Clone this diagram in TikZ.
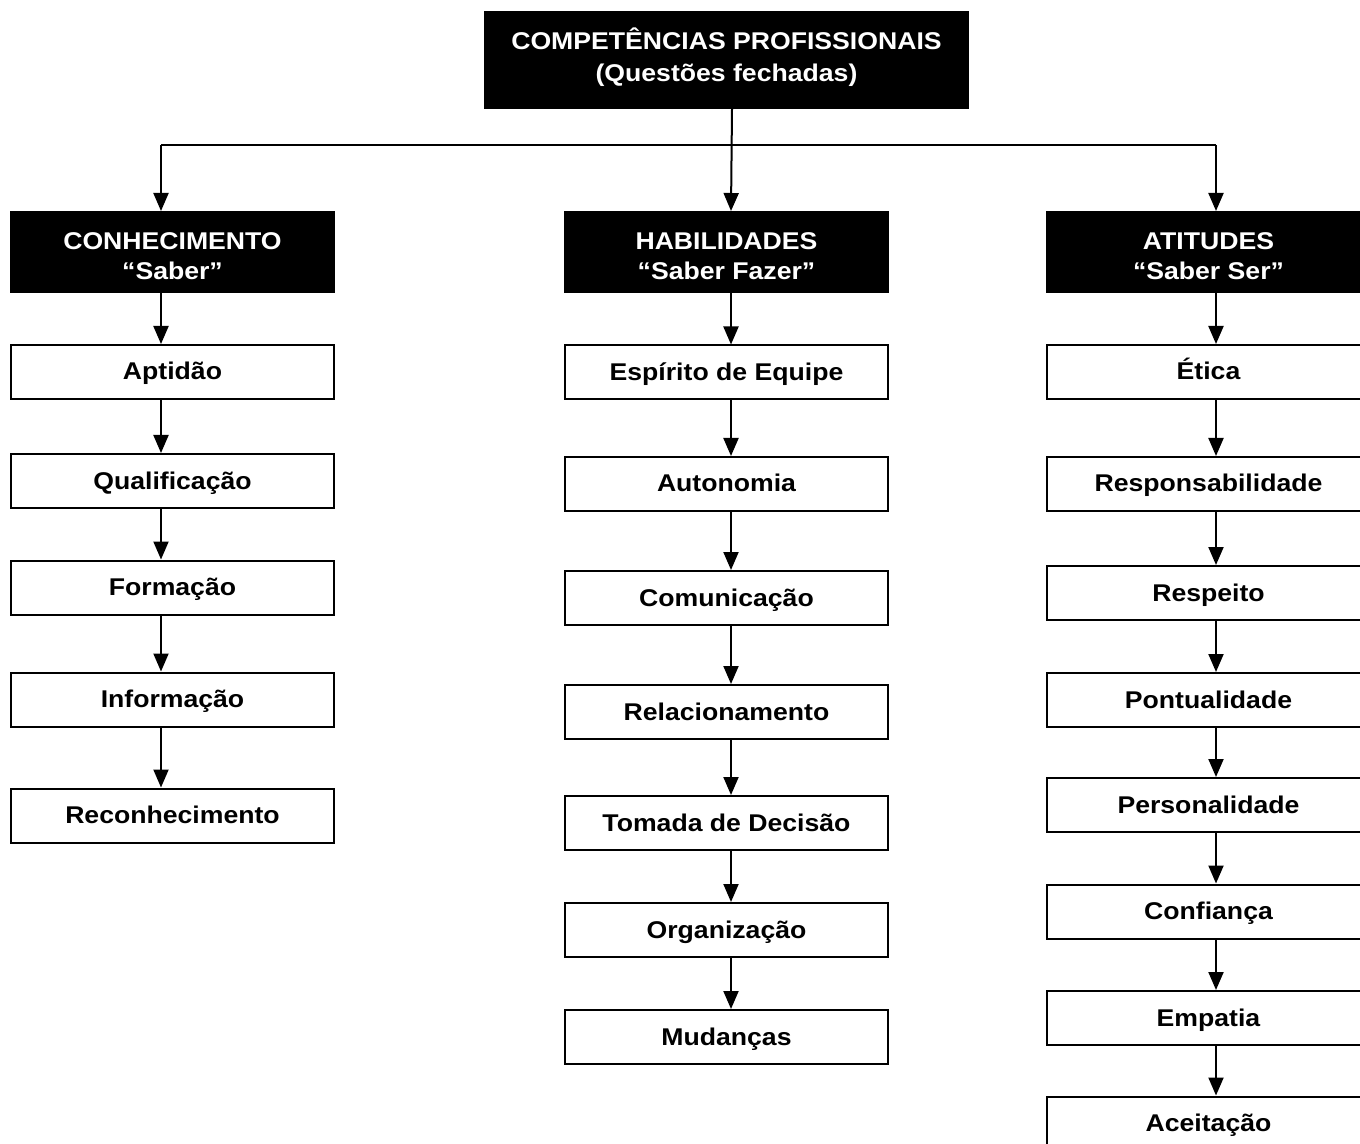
\documentclass[tikz,border=0pt]{standalone}
\usepackage{fontspec}
\setmainfont[FakeStretch=1.1]{Liberation Sans}
\usetikzlibrary{arrows.meta,positioning}

\begin{document}
\begin{tikzpicture}[
x=0.5pt, y=-0.5pt,
box/.style={draw, line width=1pt, minimum width=161.5pt, minimum height=27pt, inner sep=0pt, align=center, text height=11pt, text depth=3pt, font=\bfseries\fontsize{12.1}{15}\selectfont},
headbox/.style={box, fill=black, text=white, minimum height=40pt, text height=29.5pt, text depth=1.7pt},
arr/.style={-{Triangle[length=9pt, width=7.5pt]}, line width=1pt}
]
\useasboundingbox (0,0) rectangle (1360,1144);

% topo
\node[headbox, minimum width=241.5pt, minimum height=48pt, text height=23.5pt, text depth=1.7pt, font=\bfseries\fontsize{12.1}{16.3}\selectfont] (top) at (726.5,60) {COMPETÊNCIAS PROFISSIONAIS\\(Questões fechadas)};

% cabecalhos das colunas
\node[headbox] (kh) at (172.5,252) {CONHECIMENTO\\“Saber”};
\node[headbox] (hh) at (726.5,252) {HABILIDADES\\“Saber Fazer”};
\node[headbox] (ah) at (1208.5,252) {ATITUDES\\“Saber Ser”};

% itens
\foreach \name/\yc/\txt in {k1/372/{Aptidão}, k2/481/{Qualificação}, k3/587.5/{Formação}, k4/699.5/{Informação}, k5/815.5/{Reconhecimento}}
  \node[box] (\name) at (172.5,\yc) {\txt};
\foreach \name/\yc/\txt in {h1/372.5/{Espírito de Equipe}, h2/484/{Autonomia}, h3/598/{Comunicação}, h4/712/{Relacionamento}, h5/823/{Tomada de Decisão}, h6/930/{Organização}, h7/1037/{Mudanças}}
  \node[box] (\name) at (726.5,\yc) {\txt};
\foreach \name/\yc/\txt in {a1/372/{Ética}, a2/484/{Responsabilidade}, a3/593/{Respeito}, a4/700/{Pontualidade}, a5/805/{Personalidade}, a6/911.5/{Confiança}, a7/1018/{Empatia}, a8/1123.5/{Aceitação}}
  \node[box] (\name) at (1208.5,\yc) {\txt};

% ligacoes do topo
\coordinate (jl) at (161,145);
\coordinate (jr) at (1216,145);
\draw[line width=1pt] (jl) -- (jr);
\draw[arr] (jl) -- ([xshift=-5.75pt]kh.north);
\draw[arr] (jr) -- ([xshift=3.75pt]ah.north);
\draw[arr] ([xshift=2.75pt]top.south) -- ([xshift=2.25pt]hh.north);

% setas das colunas
\foreach \a/\b in {kh/k1, k1/k2, k2/k3, k3/k4, k4/k5}
  \draw[arr] ([xshift=-5.75pt]\a.south) -- ([xshift=-5.75pt]\b.north);
\foreach \a/\b in {hh/h1, h1/h2, h2/h3, h3/h4, h4/h5, h5/h6, h6/h7}
  \draw[arr] ([xshift=2.25pt]\a.south) -- ([xshift=2.25pt]\b.north);
\foreach \a/\b in {ah/a1, a1/a2, a2/a3, a3/a4, a4/a5, a5/a6, a6/a7, a7/a8}
  \draw[arr] ([xshift=3.75pt]\a.south) -- ([xshift=3.75pt]\b.north);
\end{tikzpicture}
\end{document}
